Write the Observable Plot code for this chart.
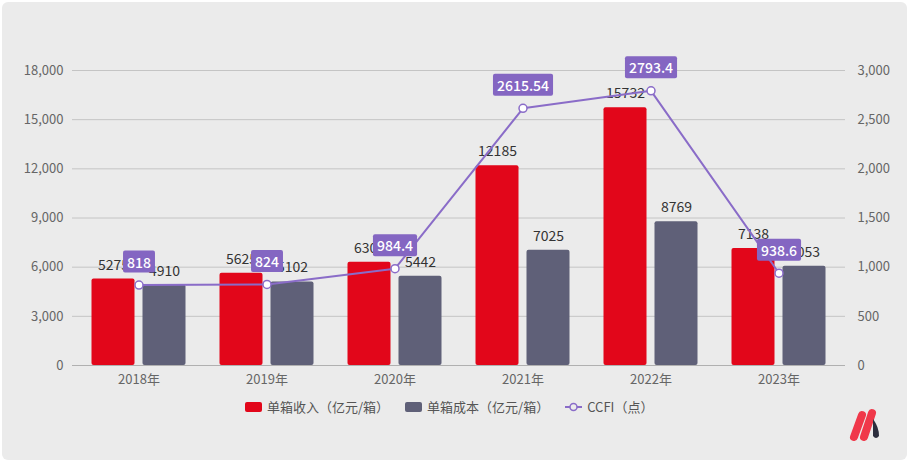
<!DOCTYPE html>
<html>
<head>
<meta charset="utf-8">
<script src="https://cdn.jsdelivr.net/npm/d3@7"></script>
<script src="https://cdn.jsdelivr.net/npm/@observablehq/plot@0.6"></script>
<style>
  html, body { margin: 0; padding: 0; background: #ffffff; width: 911px; height: 464px; overflow: hidden; }
  #frame {
    position: absolute; left: 2px; top: 2px; width: 905px; height: 458px;
    background: #ebebeb; border-radius: 6px;
  }
  #chart { position: absolute; left: 0; top: 0; width: 911px; }
  #chart svg { max-width: none !important; }
  #legend {
    position: absolute; left: 245px; top: 397px; display: flex; align-items: center;
    font-family: "Noto Sans CJK SC", "Noto Sans", sans-serif;
    font-size: 13px; color: #555; white-space: nowrap;
  }
  .sw { display: inline-block; width: 17px; height: 10px; border-radius: 2px; margin-right: 5px; }
  .item { display: flex; align-items: center; margin-right: 16px; }
  #logo { position: absolute; left: 848px; top: 405px; }
</style>
</head>
<body>
<div id="frame"></div>
<div id="chart"></div>
<div id="legend">
  <span class="item"><span class="sw" style="background:#e2061a"></span>单箱收入（亿元/箱）</span>
  <span class="item"><span class="sw" style="background:#5f6078"></span>单箱成本（亿元/箱）</span>
  <span class="item"><svg width="17" height="10" style="margin-right:5px"><line x1="0" y1="5" x2="17" y2="5" stroke="#8a6cc8" stroke-width="2"/><circle cx="8.5" cy="5" r="3.5" fill="#ebebeb" stroke="#8a6cc8" stroke-width="1.5"/></svg>CCFI（点）</span>
</div>
<svg id="logo" width="40" height="40" viewBox="0 0 40 40">
  <line x1="6" y1="32" x2="14" y2="10" stroke="#f0384a" stroke-width="8" stroke-linecap="round"/>
  <line x1="16" y1="32" x2="24" y2="8" stroke="#f0384a" stroke-width="8" stroke-linecap="round"/>
  <path d="M25 14 Q31 22 31 31 Q28 35 25 31 Z" fill="#2c2e3e"/>
</svg>
<script>
const years = ["2018年", "2019年", "2020年", "2021年", "2022年", "2023年"];
const income = [5275, 5625, 6305, 12185, 15732, 7138];
const cost = [4910, 5102, 5442, 7025, 8769, 6053];
const ccfi = [818, 824, 984.4, 2615.54, 2793.4, 938.6];
const leftTicks = [0, 3000, 6000, 9000, 12000, 15000, 18000];
const rightTicks = [0, 500, 1000, 1500, 2000, 2500, 3000];
const ratio = 18000 / 3000;

const RED = "#e2061a", GRAY = "#5f6078", PURPLE = "#8a6cc8", BOX = "#8466c2";
const fmt = d3.format(",");

const chart = Plot.plot({
  width: 911,
  height: 395,
  marginLeft: 72,
  marginRight: 66,
  marginTop: 70,
  marginBottom: 30,
  style: { background: "transparent", fontFamily: "'Noto Sans CJK SC', 'Noto Sans', sans-serif", fontSize: "13px", color: "#666", maxWidth: "none" },
  x: { domain: years, paddingInner: 0.666, paddingOuter: 0.333, label: null },
  y: { domain: [0, 18000], label: null },
  marks: [
    Plot.gridY(leftTicks, { stroke: "#c4c4c4", strokeOpacity: 1 }),
    Plot.ruleY([0], { stroke: "#b0b0b0" }),
    Plot.axisY(leftTicks, { anchor: "left", tickSize: 0, tickPadding: 9, tickFormat: fmt, label: null, fill: "#666" }),
    Plot.axisY(rightTicks.map(v => v * ratio), { anchor: "right", tickSize: 0, tickPadding: 12, tickFormat: d => fmt(d / ratio), label: null, fill: "#666" }),
    Plot.axisX({ tickSize: 0, tickPadding: 9, label: null, fill: "#666" }),
    Plot.barY(years, { x: d => d, y: (d, i) => income[i], fill: RED, dx: -25.5, rx: 2 }),
    Plot.barY(years, { x: d => d, y: (d, i) => cost[i], fill: GRAY, dx: 25.5, rx: 2 }),
    Plot.text(years, { x: d => d, y: (d, i) => income[i], text: (d, i) => String(income[i]), dx: -25.5, dy: -14, fill: "#333", fontSize: 14 }),
    Plot.text(years, { x: d => d, y: (d, i) => cost[i], text: (d, i) => String(cost[i]), dx: 25.5, dy: -14, fill: "#333", fontSize: 14 }),
    Plot.line(years, { x: d => d, y: (d, i) => ccfi[i] * ratio, stroke: PURPLE, strokeWidth: 2 }),
    Plot.dot(years, { x: d => d, y: (d, i) => ccfi[i] * ratio, r: 4, fill: "#fff", stroke: PURPLE, strokeWidth: 1.5 }),
    Plot.text(years, { x: d => d, y: (d, i) => ccfi[i] * ratio, text: (d, i) => String(ccfi[i]), dy: -22, fill: "#fff", fontSize: 14, fontWeight: 500, ariaDescription: "ccfi-label" })
  ]
});
document.getElementById("chart").appendChild(chart);

// Add label boxes behind CCFI labels
const textGroups = chart.querySelectorAll('g[aria-label="text"]');
let g = chart.querySelector('g[aria-description="ccfi-label"]') || textGroups[textGroups.length - 1];
if (g) {
  g.querySelectorAll("text").forEach(t => {
    const bb = t.getBBox();
    const r = document.createElementNS("http://www.w3.org/2000/svg", "rect");
    r.setAttribute("x", bb.x - 4);
    r.setAttribute("y", bb.y - 1);
    r.setAttribute("width", bb.width + 8);
    r.setAttribute("height", bb.height + 2);
    r.setAttribute("rx", 2);
    r.setAttribute("fill", BOX);
    const tr = t.getAttribute("transform");
    if (tr) r.setAttribute("transform", tr);
    t.parentNode.insertBefore(r, t);
  });
}
</script>
</body>
</html>
